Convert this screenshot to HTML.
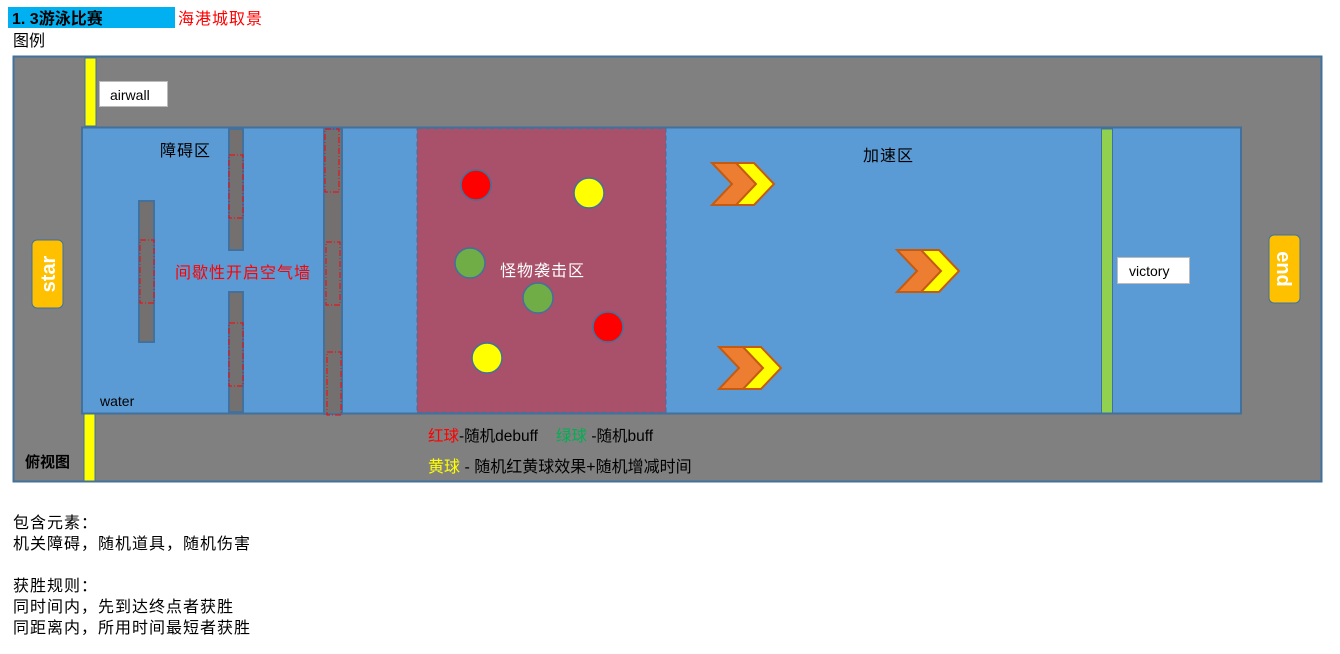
<!DOCTYPE html>
<html><head><meta charset="utf-8"><style>
body{margin:0;background:#fff;width:1340px;height:649px;overflow:hidden;font-family:"Liberation Sans","Noto Sans CJK SC",sans-serif}
svg text{font-family:"Liberation Sans","Noto Sans CJK SC",sans-serif}
.cj{letter-spacing:1px}
</style></head><body>
<svg width="1340" height="649" viewBox="0 0 1340 649">
<rect x="8" y="7" width="167" height="21" fill="#00b0f0"/>
<text x="12" y="24" font-size="16" font-weight="bold" font-family="Liberation Serif,Noto Serif CJK SC,serif">1. 3游泳比赛</text>
<text x="178" y="24" font-size="16" fill="#ff0000" class="cj">海港城取景</text>
<text x="13" y="46" font-size="16">图例</text>
<rect x="13.5" y="56.5" width="1308" height="425" fill="#808080" stroke="#41719c" stroke-width="2"/>
<rect x="82" y="127.5" width="1159" height="286" fill="#5b9bd5" stroke="#41719c" stroke-width="2"/>
<rect x="85" y="58" width="11" height="68" fill="#ffff00" stroke="#41719c"/>
<rect x="84" y="414" width="11" height="67" fill="#ffff00" stroke="#41719c"/>
<rect x="99.5" y="81.5" width="68" height="25" fill="#fff" stroke="#bbb"/>
<text x="110" y="100" font-size="14">airwall</text>
<g fill="#757070" stroke="#41719c" stroke-width="2">
<rect x="139" y="201" width="15" height="141"/>
<rect x="229" y="129" width="14" height="121"/>
<rect x="229" y="292" width="14" height="120"/>
<rect x="324" y="129" width="18" height="285"/>
</g>
<g fill="none" stroke="#ff0000" stroke-dasharray="6,2,1,2">
<rect x="140" y="240" width="14" height="63"/>
<rect x="229" y="155" width="14" height="63"/>
<rect x="229" y="323" width="14" height="63"/>
<rect x="325" y="129" width="14" height="63"/>
<rect x="326" y="242" width="14" height="63"/>
<rect x="327" y="352" width="14" height="63"/>
</g>
<rect x="417" y="128.5" width="249" height="284" fill="#a9506a" stroke="#41719c" stroke-dasharray="5,3"/>
<g stroke="#41719c" stroke-width="1.5">
<circle cx="476" cy="185" r="15" fill="#ff0000"/>
<circle cx="589" cy="193" r="15" fill="#ffff00"/>
<circle cx="470" cy="263" r="15" fill="#70ad47"/>
<circle cx="538" cy="298" r="15" fill="#70ad47"/>
<circle cx="608" cy="327" r="15" fill="#ff0000"/>
<circle cx="487" cy="358" r="15" fill="#ffff00"/>
</g>
<g stroke="#c55a11" stroke-width="2">
<g transform="translate(712,163)"><polygon points="0,0 28,0 48,21 28,42 0,42 20,21" fill="#ed7d31"/><polygon points="24,0 42,0 62,21 42,42 24,42 44,21" fill="#ffff00"/></g>
<g transform="translate(897,250)"><polygon points="0,0 28,0 48,21 28,42 0,42 20,21" fill="#ed7d31"/><polygon points="24,0 42,0 62,21 42,42 24,42 44,21" fill="#ffff00"/></g>
<g transform="translate(719,347)"><polygon points="0,0 28,0 48,21 28,42 0,42 20,21" fill="#ed7d31"/><polygon points="24,0 42,0 62,21 42,42 24,42 44,21" fill="#ffff00"/></g>
</g>
<rect x="1101.5" y="129" width="11" height="284" fill="#92d050" stroke="#41719c"/>
<rect x="1117.5" y="257.5" width="72" height="26" fill="#fff" stroke="#bbb"/>
<text x="1129" y="276" font-size="14">victory</text>
<rect x="32" y="240" width="31" height="68" rx="5" fill="#ffc000" stroke="#41719c"/>
<text transform="translate(55,274) rotate(-90)" text-anchor="middle" font-size="20" font-weight="bold" fill="#fff">star</text>
<rect x="1269" y="235" width="31" height="68" rx="5" fill="#ffc000" stroke="#41719c"/>
<text transform="translate(1277,269) rotate(90)" text-anchor="middle" font-size="20" font-weight="bold" fill="#fff">end</text>
<text x="160" y="156" font-size="16" class="cj">障碍区</text>
<text x="175" y="278" font-size="16" class="cj" fill="#ff0000">间歇性开启空气墙</text>
<text x="500" y="276" font-size="16" class="cj" fill="#fff">怪物袭击区</text>
<text x="863" y="161" font-size="16" class="cj">加速区</text>
<text x="100" y="406" font-size="14">water</text>
<text x="25" y="467" font-size="15" font-weight="bold">俯视图</text>
<text x="428" y="441" font-size="15.5"><tspan fill="#ff0000">红球</tspan>-随机debuff<tspan dx="18" fill="#00b050">绿球</tspan> -随机buff</text>
<text x="428" y="472" font-size="16"><tspan fill="#ffff00">黄球</tspan> - 随机红黄球效果+随机增减时间</text>
<g font-size="16" class="cj">
<text x="13" y="528">包含元素：</text>
<text x="13" y="549">机关障碍，随机道具，随机伤害</text>
<text x="13" y="591">获胜规则：</text>
<text x="13" y="612">同时间内，先到达终点者获胜</text>
<text x="13" y="633">同距离内，所用时间最短者获胜</text>
</g>
</svg>
</body></html>
